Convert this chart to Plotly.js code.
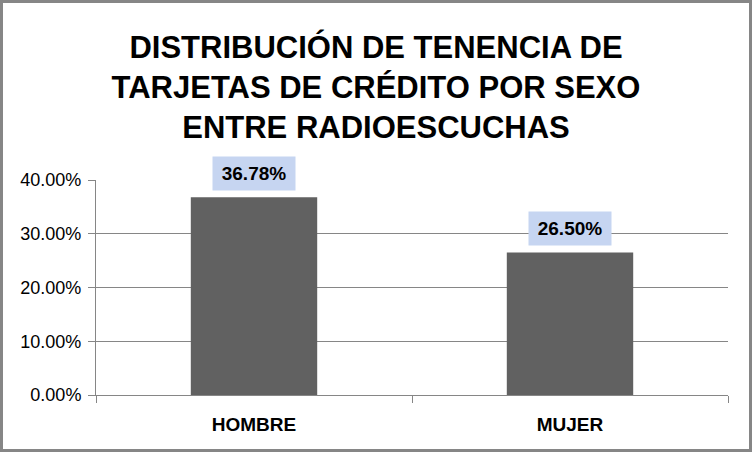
<!DOCTYPE html>
<html>
<head>
<meta charset="utf-8">
<script src="https://cdn.plot.ly/plotly-3.0.1.min.js"></script>
<style>
  body { margin: 0; background: #fff; }
  #divPlot { width: 752px; height: 452px; box-sizing: border-box; border: 3px solid #868686; }
</style>
</head>
<body>
<div id="divPlot"></div>
<script>
const categories = [ 'HOMBRE', 'MUJER' ];
const shares = [ 0.3678, 0.2650 ];
const shareLabels = [ '36.78%', '26.50%' ];
const chartTitle = 'DISTRIBUCIÓN DE TENENCIA DE<br>TARJETAS DE CRÉDITO POR SEXO<br>ENTRE RADIOESCUCHAS';

const font = 'Liberation Sans, Arial, sans-serif';
const axisGrey = '#868686';

const bars = {
  x : categories,
  y : shares,
  type : 'bar',
  marker : {color : '#616161'},
  hoverinfo : 'skip'
};

// value boxes above the bars
const labels = categories.map((c, i) => ({
  x : c,
  y : shares[i],
  xref : 'x',
  yref : 'y',
  text : '<b>' + shareLabels[i] + '</b>',
  showarrow : false,
  yanchor : 'middle',
  yshift : 24,
  width : 74,
  height : 25,
  borderpad : 4,
  bgcolor : '#c6d5f1',
  font : {family : font, size : 19, color : '#000'}
}));

const layout = {
  width : 746,
  height : 446,
  margin : {l : 93, r : 21, t : 177, b : 54},
  paper_bgcolor : '#fff',
  plot_bgcolor : '#fff',
  showlegend : false,
  hovermode : false,
  bargap : 0.6,
  title : {
    text : chartTitle,
    font : {family : font, size : 31, color : '#000', weight : 'bold'},
    xref : 'container',
    x : 0.5,
    yref : 'container',
    y : 0.877,
    yanchor : 'top'
  },
  xaxis : {
    type : 'category',
    showline : true,
    linecolor : axisGrey,
    linewidth : 1,
    ticks : 'outside',
    tickson : 'boundaries',
    ticklen : 7,
    tickcolor : axisGrey,
    showgrid : false,
    tickfont : {family : font, size : 19, color : '#000', weight : 'bold'},
    ticklabelstandoff : 12
  },
  yaxis : {
    range : [ 0, 0.4 ],
    tick0 : 0,
    dtick : 0.1,
    tickformat : '.2%',
    showline : true,
    linecolor : axisGrey,
    linewidth : 1,
    ticks : 'outside',
    ticklen : 7,
    tickcolor : axisGrey,
    showgrid : true,
    gridcolor : axisGrey,
    gridwidth : 1,
    zeroline : false,
    ticklabelstandoff : 3,
    tickfont : {family : font, size : 18, color : '#000'}
  },
  annotations : labels
};

Plotly.newPlot('divPlot', [ bars ], layout, {displayModeBar : false, staticPlot : true});
</script>
</body>
</html>
